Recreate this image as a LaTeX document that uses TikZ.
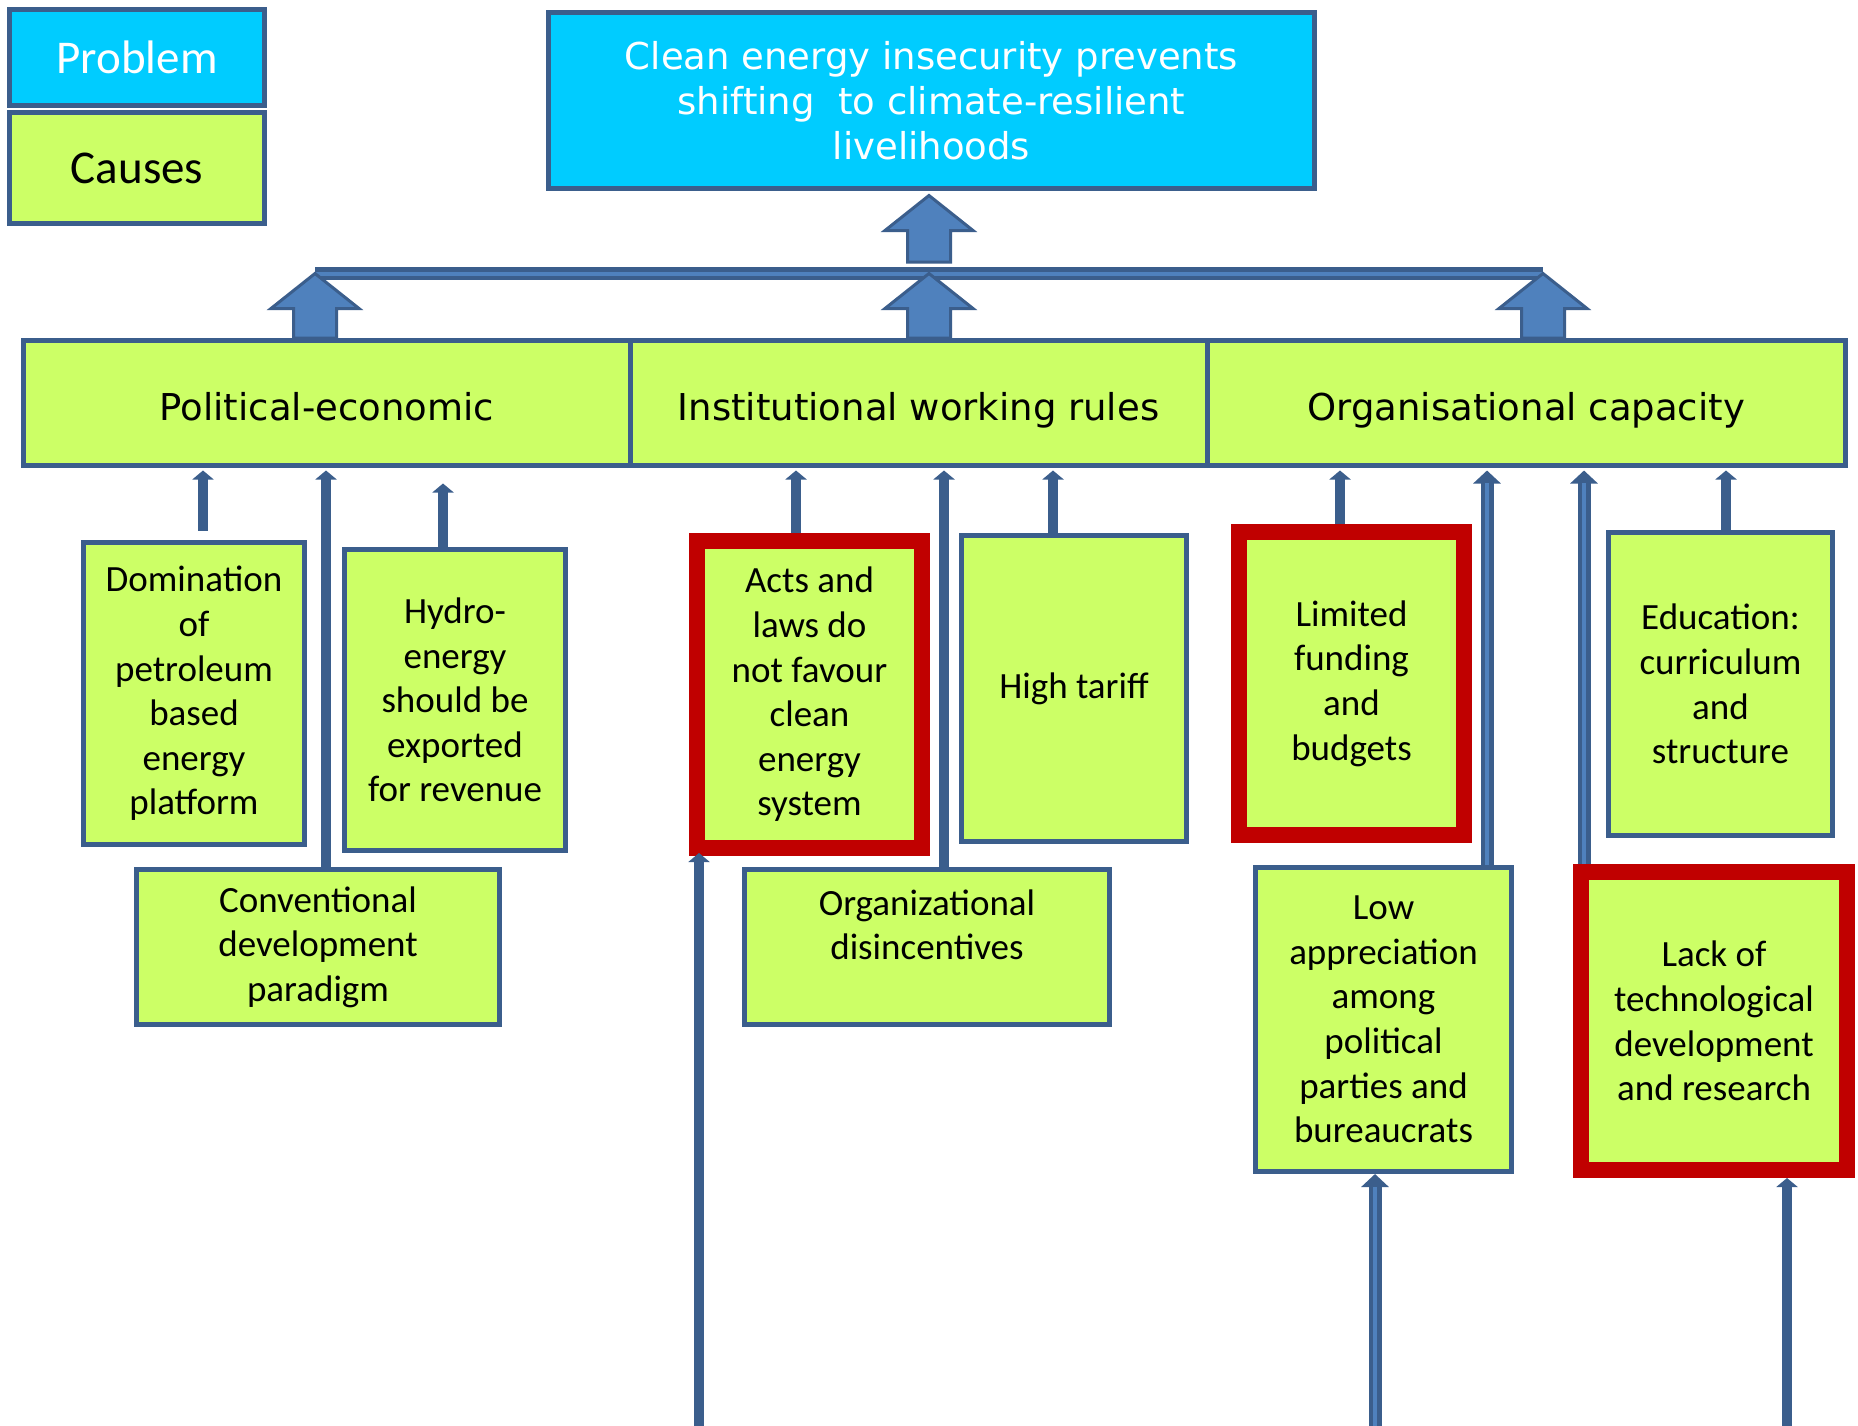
\documentclass[tikz,border=0pt]{standalone}
\usepackage{fontspec}
\setmainfont{Carlito}
\newfontfamily\widesans{DejaVu Sans}
\usetikzlibrary{arrows.meta,calc}

\definecolor{cyanbox}{HTML}{00CCFF}
\definecolor{limebox}{HTML}{CCFF66}
\definecolor{edgeblue}{RGB}{59,94,140}
\definecolor{redline}{HTML}{C00000}
\definecolor{arrowfill}{HTML}{4F81BD}

% outlined block arrow pointing up: #1 = base point, #2 = tip point
\newcommand\blockarrow[2]{%
  \path[blockarr] let \p1=(#1), \p2=(#2) in
    (\x1-21.5pt,\y1) -- (\x1-21.5pt,\y2-35pt) -- (\x1-44pt,\y2-35pt) -- (\x1,\y2)
    -- (\x1+44pt,\y2-35pt) -- (\x1+21.5pt,\y2-35pt) -- (\x1+21.5pt,\y1) -- cycle;}

\begin{document}
\begin{tikzpicture}[x=1pt,y=-1pt,
  boxbase/.style={draw=edgeblue, line width=5pt, inner sep=0pt, align=center},
  cause/.style={boxbase, fill=limebox, font=\fontsize{37}{44.6}\selectfont},
  keycause/.style={cause, draw=redline, line width=16pt},
  category/.style={boxbase, fill=limebox, font=\widesans\fontsize{37}{45}\selectfont,
    text height=35pt, text depth=0pt},
  problembox/.style={boxbase, fill=cyanbox, text=white, font=\widesans\fontsize{37}{45}\selectfont},
  keybox/.style={boxbase, font=\fontsize{47}{56}\selectfont},
  linkarrow/.style={draw=edgeblue, line width=10pt, -{Triangle[width=21pt,length=9pt]}},
  linkouter/.style={draw=edgeblue, line width=13pt, -{Triangle[width=27pt,length=13pt]}},
  linkinner/.style={draw=arrowfill, line width=4pt},
  blockarr/.style={fill=arrowfill, draw=edgeblue, line width=3pt, line join=miter},
  busbar/.style={draw=edgeblue, line width=13pt},
  businner/.style={draw=arrowfill, line width=4pt},
]
\fill[white] (0,0) rectangle (1858,1426);
\useasboundingbox (0,0) rectangle (1858,1426);

% key
\node[keybox, fill=cyanbox, text=white, minimum width=255pt, minimum height=96pt] (keyproblem) at (137,57.5) {Problem};
\node[keybox, fill=limebox, minimum width=255pt, minimum height=111pt] (keycauses) at (137,168) {Causes};

% core problem
\node[problembox, minimum width=766pt, minimum height=176pt] (main) at (931.5,100.5)
  {Clean energy insecurity prevents\\shifting\ \ to climate-resilient\\livelihoods};

% cause categories
\node[category, minimum width=606.5pt, minimum height=125pt] (pe) at (326.75,403) {Political-economic};
\node[category, minimum width=577pt, minimum height=125pt] (iwr) at (918.5,403) {Institutional working rules};
\node[category, minimum width=638.5pt, minimum height=125pt] (oc) at (1526.25,403) {Organisational capacity};

% individual causes
\node[cause, minimum width=221pt, minimum height=302pt] (dom) at (194,693.5)
  {Domination\\of\\petroleum\\based\\energy\\platform};
\node[cause, minimum width=221pt, minimum height=301pt] (hydro) at (455,700)
  {Hydro-\\energy\\should be\\exported\\for revenue};
\node[cause, minimum width=363pt, minimum height=155pt] (conv) at (318,947)
  {Conventional\\development\\paradigm};
\node[keycause, minimum width=225pt, minimum height=307pt] (acts) at (809.5,694.5)
  {Acts and\\laws do\\not favour\\clean\\energy\\system};
\node[cause, minimum width=225pt, minimum height=306pt] (tariff) at (1074,688.5) {High tariff};
\node[cause, minimum width=365pt, minimum height=155pt, text depth=44.6pt] (orgdis) at (927,947)
  {Organizational\\disincentives};
\node[keycause, minimum width=225pt, minimum height=303pt] (funding) at (1351.5,683.5)
  {Limited\\funding\\and\\budgets};
\node[cause, minimum width=256pt, minimum height=304pt] (apprec) at (1383.5,1019.5)
  {Low\\appreciation\\among\\political\\parties and\\bureaucrats};
\node[cause, minimum width=224pt, minimum height=303pt] (edu) at (1720.5,684)
  {Education:\\curriculum\\and\\structure};
\node[keycause, minimum width=266pt, minimum height=298pt] (tech) at (1714,1021)
  {Lack of\\technological\\development\\and research};

% columns of the cause links
\coordinate (xdom) at (203,0);
\coordinate (xhydro) at (443,0);
\coordinate (xconv) at (326,0);
\coordinate (xacts) at (796,0);
\coordinate (xtariff) at (1053,0);
\coordinate (xorg) at (944,0);
\coordinate (xfund) at (1340,0);
\coordinate (xapp) at (1487,0);
\coordinate (xedu) at (1726,0);
\coordinate (xtech) at (1584,0);
% loose lower ends
\coordinate (inacts) at (699,1426);
\coordinate (inapp) at (1375,1426);
\coordinate (intech) at (1787,1426);

% bus bar joining the categories
\coordinate (barL) at (315,273.5);
\coordinate (barC) at (929,273.5);
\coordinate (barR) at (1543,273.5);
\draw[busbar] (barL) -- (barR);
\draw[businner] (barL) -- (barR);

\blockarrow{pe.north -| barL}{barL}
\blockarrow{iwr.north -| barC}{barC}
\blockarrow{oc.north -| barR}{barR}
\blockarrow{[yshift=11.5pt]barC}{[yshift=-4.5pt]main.south -| barC}

% cause links to categories
\draw[linkarrow] ([yshift=9.5pt]dom.north -| xdom) -- ([yshift=-2.5pt]pe.south -| xdom);
\draw[linkarrow] (hydro.north -| xhydro) -- ([yshift=-15.5pt]pe.south -| xhydro);
\draw[linkarrow] (conv.north -| xconv) -- ([yshift=-2.5pt]pe.south -| xconv);
\draw[linkarrow] (acts.north -| xacts) -- ([yshift=-2.5pt]iwr.south -| xacts);
\draw[linkarrow] (tariff.north -| xtariff) -- ([yshift=-2.5pt]iwr.south -| xtariff);
\draw[linkarrow] (orgdis.north -| xorg) -- ([yshift=-2.5pt]iwr.south -| xorg);
\draw[linkarrow] (funding.north -| xfund) -- ([yshift=-2.5pt]oc.south -| xfund);
\draw[linkarrow] (edu.north -| xedu) -- ([yshift=-2.5pt]oc.south -| xedu);
\draw[linkouter] (apprec.north -| xapp) -- ([yshift=-2.5pt]oc.south -| xapp);
\draw[linkinner] (apprec.north -| xapp) -- ([yshift=-15pt]oc.south -| xapp);
\draw[linkouter] (tech.north -| xtech) -- ([yshift=-2.5pt]oc.south -| xtech);
\draw[linkinner] (tech.north -| xtech) -- ([yshift=-15pt]oc.south -| xtech);

% links entering from below
\draw[linkarrow] (inacts) -- ([yshift=3pt]acts.south -| inacts);
\draw[linkouter] (inapp) -- (apprec.south -| inapp);
\draw[linkinner] (inapp) -- ([yshift=-13pt]apprec.south -| inapp);
\draw[linkarrow] (intech) -- (tech.south -| intech);
\end{tikzpicture}
\end{document}
